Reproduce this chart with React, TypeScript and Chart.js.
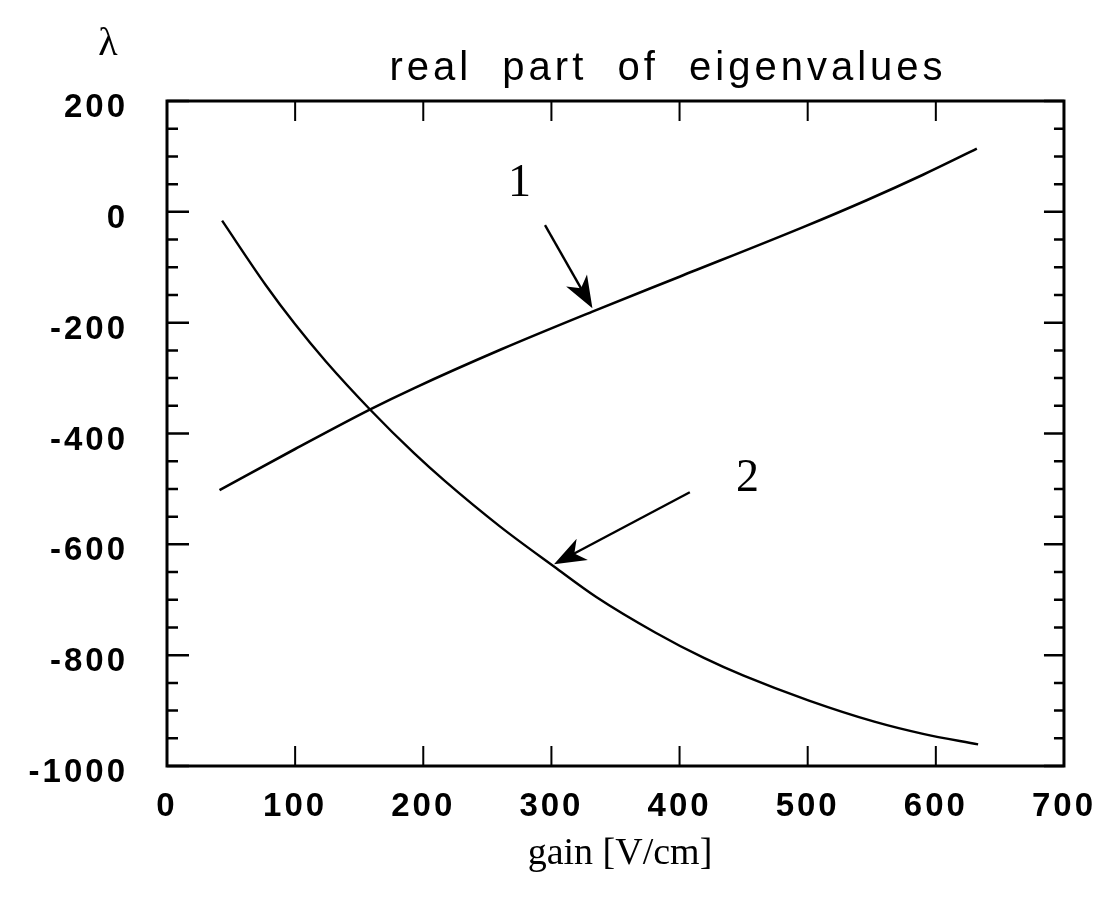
import { useEffect, useRef } from 'react';
import { Chart, registerables } from 'chart.js';

Chart.register(...registerables);

// ---- data ----
const gainCurve1 = [41, 100, 159, 193, 261, 332, 400, 496, 546, 590, 632];
const lambdaCurve1 = [-502, -428, -356, -318, -248, -180, -117, -28, 21, 67, 114];

const gainCurve2 = [43, 77, 100, 124, 159, 193, 217, 260, 302, 335, 381, 419, 450, 501, 552, 590, 633];
const lambdaCurve2 = [-16, -132, -203, -270, -358, -436, -486, -568, -640, -695, -759, -805, -837, -882, -920, -942, -961];

const xTickValues = [0, 100, 200, 300, 400, 500, 600, 700];
const yTickValues = [-1000, -800, -600, -400, -200, 0, 200];

const titleText = 'real  part  of  eigenvalues';
const xAxisTitle = 'gain [V/cm]';
const yAxisTitle = 'λ';

// annotation labels and arrows (data coordinates)
const curveLabels = ['1', '2'];
const labelGain = [275, 453];
const labelLambda = [50, -482];
const arrowFromGain = [295, 408];
const arrowFromLambda = [-24, -506];
const arrowToGain = [332, 302];
const arrowToLambda = [-174, -636];

function toPoints(xs: number[], ys: number[]) {
  return xs.map((x, i) => ({ x, y: ys[i] }));
}

const framePlugin = {
  id: 'framePlugin',
  afterDraw(chart: any) {
    const ctx: CanvasRenderingContext2D = chart.ctx;
    const a = chart.chartArea;
    const xs = chart.scales.x;
    const ys = chart.scales.y;
    ctx.save();
    ctx.letterSpacing = '0px';
    ctx.strokeStyle = '#000';
    ctx.lineCap = 'butt';
    // y ticks (inward, both sides)
    ctx.lineWidth = 2.5;
    ys.ticks.forEach((t: any) => {
      const py = ys.getPixelForValue(t.value);
      const major = yTickValues.includes(t.value);
      const lenL = major ? 22 : 11;
      const lenR = major ? 20 : 10;
      ctx.beginPath();
      ctx.moveTo(a.left, py);
      ctx.lineTo(a.left + lenL, py);
      ctx.moveTo(a.right, py);
      ctx.lineTo(a.right - lenR, py);
      ctx.stroke();
    });
    // x ticks (inward, top and bottom)
    ctx.lineWidth = 2;
    xs.ticks.forEach((t: any) => {
      const px = xs.getPixelForValue(t.value);
      ctx.beginPath();
      ctx.moveTo(px, a.bottom);
      ctx.lineTo(px, a.bottom - 20);
      ctx.moveTo(px, a.top);
      ctx.lineTo(px, a.top + 20);
      ctx.stroke();
    });
    // frame
    ctx.lineWidth = 3;
    ctx.strokeRect(a.left, a.top, a.right - a.left, a.bottom - a.top);

    // arrows
    ctx.fillStyle = '#000';
    for (let i = 0; i < arrowFromGain.length; i++) {
      const x0 = xs.getPixelForValue(arrowFromGain[i]);
      const y0 = ys.getPixelForValue(arrowFromLambda[i]);
      const x1 = xs.getPixelForValue(arrowToGain[i]);
      const y1 = ys.getPixelForValue(arrowToLambda[i]);
      const dx = x1 - x0;
      const dy = y1 - y0;
      const len = Math.hypot(dx, dy);
      const ux = dx / len;
      const uy = dy / len;
      const nx = -uy;
      const ny = ux;
      const L = 32;
      const W = 12;
      ctx.lineWidth = 2.4;
      ctx.beginPath();
      ctx.moveTo(x0, y0);
      ctx.lineTo(x1 - ux * L * 0.6, y1 - uy * L * 0.6);
      ctx.stroke();
      ctx.beginPath();
      ctx.moveTo(x1, y1);
      ctx.lineTo(x1 - ux * L + nx * W, y1 - uy * L + ny * W);
      ctx.lineTo(x1 - ux * L * 0.72, y1 - uy * L * 0.72);
      ctx.lineTo(x1 - ux * L - nx * W, y1 - uy * L - ny * W);
      ctx.closePath();
      ctx.fill();
    }
    // curve labels
    ctx.font = "46px 'Liberation Serif'";
    ctx.textAlign = 'center';
    ctx.textBaseline = 'middle';
    curveLabels.forEach((s, i) => {
      ctx.fillText(s, xs.getPixelForValue(labelGain[i]), ys.getPixelForValue(labelLambda[i]));
    });

    // title
    ctx.font = "40px 'Liberation Sans'";
    ctx.letterSpacing = '4px';
    ctx.textAlign = 'center';
    ctx.textBaseline = 'alphabetic';
    ctx.fillText(titleText, 668, 80);

    // axis titles
    ctx.letterSpacing = '0px';
    ctx.font = "38px 'Liberation Serif'";
    ctx.fillText(xAxisTitle, 620, 864);
    ctx.font = "40px 'Liberation Serif'";
    ctx.fillText(yAxisTitle, 108, 55);
    ctx.restore();
  },
};

const spacingPlugin = {
  id: 'spacingPlugin',
  beforeUpdate(chart: any) {
    chart.ctx.letterSpacing = '3px';
  },
  beforeDraw(chart: any) {
    chart.ctx.letterSpacing = '3px';
  },
};

export default function App() {
  const canvasRef = useRef<HTMLCanvasElement | null>(null);

  useEffect(() => {
    const canvas = canvasRef.current;
    if (!canvas) return;
    const tickFont = { family: "'Liberation Sans', Arial, sans-serif", size: 33, weight: 'bold' as const };
    const chart = new Chart(canvas, {
      type: 'line',
      data: {
        datasets: [
          {
            label: '1',
            data: toPoints(gainCurve1, lambdaCurve1),
            borderColor: '#000',
            borderWidth: 2.6,
            pointRadius: 0,
            cubicInterpolationMode: 'monotone',
            fill: false,
          },
          {
            label: '2',
            data: toPoints(gainCurve2, lambdaCurve2),
            borderColor: '#000',
            borderWidth: 2.4,
            pointRadius: 0,
            cubicInterpolationMode: 'monotone',
            fill: false,
          },
        ],
      },
      options: {
        responsive: false,
        maintainAspectRatio: false,
        animation: false,
        events: [],
        layout: { padding: { top: 101, right: 38, left: 0, bottom: 0 } },
        plugins: {
          legend: { display: false },
          tooltip: { enabled: false },
          title: { display: false },
        },
        scales: {
          x: {
            type: 'linear',
            min: 0,
            max: 700,
            grid: { display: false, drawTicks: false },
            border: { display: false },
            afterFit: (s: any) => {
              s.height = 133;
            },
            ticks: {
              stepSize: 100,
              autoSkip: false,
              maxRotation: 0,
              padding: 21,
              color: '#000',
              font: tickFont,
              callback: (v: any) => (xTickValues.includes(Number(v)) ? String(v) : ''),
            },
          },
          y: {
            type: 'linear',
            min: -1000,
            max: 200,
            grid: { display: false, drawTicks: false },
            border: { display: false },
            afterFit: (s: any) => {
              s.width = 167;
            },
            ticks: {
              stepSize: 50,
              autoSkip: false,
              padding: 39,
              labelOffset: 7,
              color: '#000',
              font: tickFont,
              callback: (v: any) => (yTickValues.includes(Number(v)) ? String(v) : ''),
            },
          },
        },
      },
      plugins: [spacingPlugin, framePlugin],
    });
    return () => chart.destroy();
  }, []);

  return (
    <div style={{ position: 'fixed', left: 0, top: 0, width: 1117, height: 899, background: '#fff' }}>
      <canvas ref={canvasRef} width={1117} height={899} style={{ display: 'block' }} />
    </div>
  );
}
